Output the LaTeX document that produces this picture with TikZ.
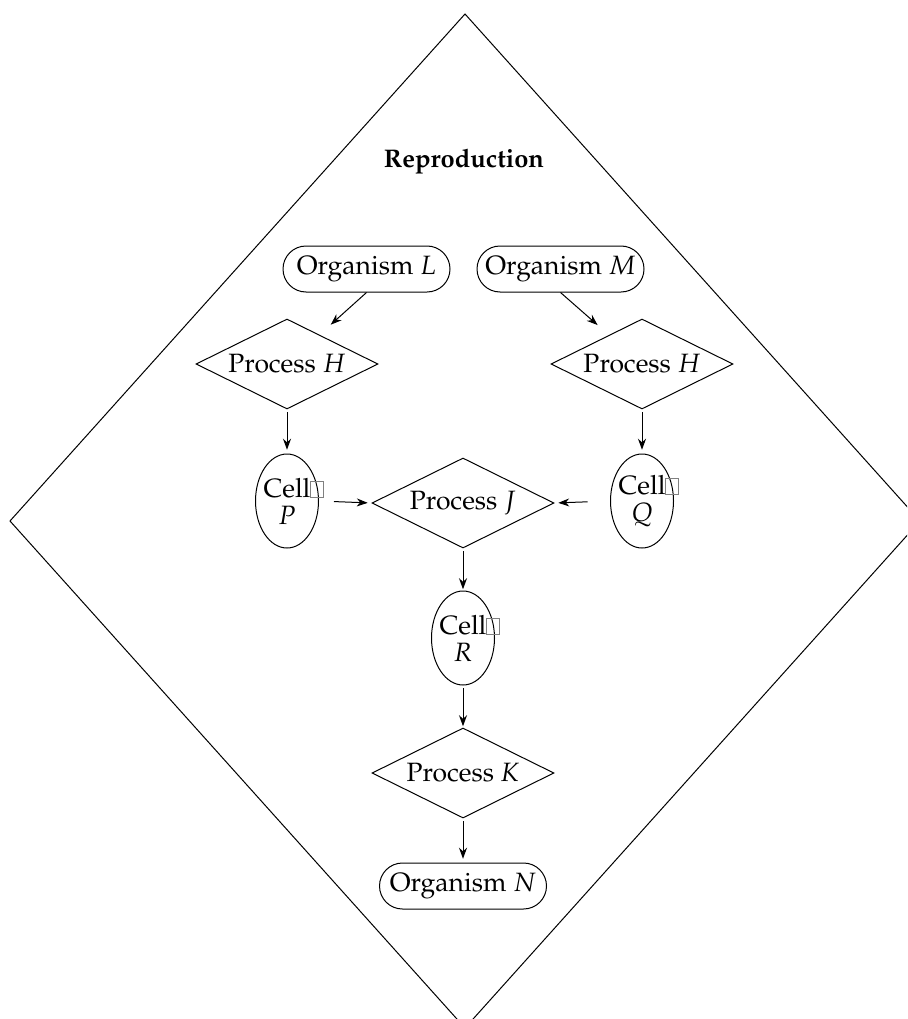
\documentclass[tikz,border=0pt]{standalone}
\usepackage[T1]{fontenc}
\usepackage{mathpazo}
\usetikzlibrary{shapes.geometric,shapes.misc,arrows.meta}
\newcommand\glyphbox{{\color{gray}\setlength\fboxsep{0pt}\setlength\fboxrule{0.3pt}\fbox{\rule{0pt}{6.2pt}\rule{4.8pt}{0pt}}}}
\begin{document}
\begin{tikzpicture}[x=0.4pt,y=-0.4pt,
  font=\fontsize{10.6}{12.6}\selectfont, line width=0.4pt,
  organism/.style={draw, rounded rectangle, minimum width=66.8pt, minimum height=18.4pt, inner sep=0pt},
  process/.style={draw, diamond, minimum width=72.8pt, minimum height=36pt, inner sep=0pt, aspect=2},
  cell/.style={draw, ellipse, minimum width=25.2pt, minimum height=37.6pt, inner sep=0pt},
  celltext/.style={align=center, inner sep=0pt, font=\fontsize{10.6}{10.8}\selectfont},
  arr/.style={-{Stealth[length=4.4pt,width=3.2pt]}}]
\useasboundingbox (0,0) rectangle (907,1019);
\clip (0,0) rectangle (907,1019);
% outer diamond
\draw (465,14) -- (920,521) -- (465,1028) -- (10,521) -- cycle;
\node[font=\fontsize{10.2}{12}\selectfont\bfseries] (title) at (464,162) {Reproduction};
% nodes
\node[organism] (orgL) at (366.5,269) {Organism $L$};
\node[organism] (orgM) at (560.5,269) {Organism $M$};
\node[process] (hL) at (287,364) {Process $H$};
\node[process] (hR) at (642,364) {Process $H$};
\node[cell] (cellP) at (287,501) {};
\node[celltext] (tP) at (cellP) {Cell\rlap{\glyphbox}\\$P$};
\node[cell] (cellQ) at (642,501) {};
\node[celltext] (tQ) at (cellQ) {Cell\rlap{\glyphbox}\\$Q$};
\node[process] (pJ) at (463,503) {Process $J$};
\node[cell] (cellR) at (463,638) {};
\node[celltext] (tR) at (cellR) {Cell\rlap{\glyphbox}\\$R$};
\node[process] (pK) at (463,773) {Process $K$};
\node[organism] (orgN) at (463,886) {Organism $N$};
% connectors
\draw[arr, shorten >=6pt] (orgL.south) -- (hL);
\draw[arr, shorten >=6pt] (orgM.south) -- (hR);
\draw[arr, shorten <=1pt, shorten >=1.5pt] (hL.south) -- (cellP.north);
\draw[arr, shorten <=1pt, shorten >=1.5pt] (hR.south) -- (cellQ.north);
\draw[arr, shorten <=6pt, shorten >=1.5pt] (cellP.east) -- (pJ.west);
\draw[arr, shorten <=9pt, shorten >=1.5pt] (cellQ.west) -- (pJ.east);
\draw[arr, shorten <=1pt, shorten >=0.5pt] (pJ.south) -- (cellR.north);
\draw[arr, shorten <=1pt, shorten >=0.5pt] (cellR.south) -- (pK.north);
\draw[arr, shorten <=1pt, shorten >=1.5pt] (pK.south) -- (orgN.north);
\end{tikzpicture}
\end{document}
